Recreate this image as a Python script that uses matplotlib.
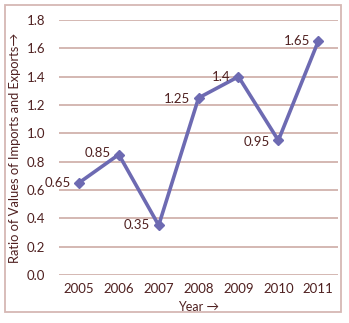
import matplotlib.pyplot as plt
from matplotlib.patches import Rectangle

plt.rcParams['font.family'] = ['Lato', 'DejaVu Sans']

years = ['2005', '2006', '2007', '2008', '2009', '2010', '2011']
ratios = [0.65, 0.85, 0.35, 1.25, 1.4, 0.95, 1.65]
labels = ['0.65', '0.85', '0.35', '1.25', '1.4', '0.95', '1.65']
# label offsets in points (dx, dy)
offsets = [(-6, 0), (-6, 1), (-6, 0), (-6, -1), (-6, 0), (-6, -1), (-6, 0)]

text_col = '#4f2020'
line_col = '#6d6ab2'
grid_col = '#c9a49e'

fig = plt.figure(figsize=(3.49, 3.23), dpi=100)
fig.patches.append(Rectangle((0.0143, 0.034), 0.963, 0.95, transform=fig.transFigure,
                             fill=False, edgecolor='#d6b8b4', linewidth=1.3))
ax = fig.add_axes([0.169, 0.149, 0.800, 0.789])

x = list(range(len(years)))
ax.plot(x, ratios, color=line_col, linewidth=2.6, marker='D', markersize=5)
for xi, yi, lab, (dx, dy) in zip(x, ratios, labels, offsets):
    ax.annotate(lab, (xi, yi), xytext=(dx, dy), textcoords='offset points',
                ha='right', va='center', fontsize=9.5, color=text_col)

ax.set_xlim(-0.5, len(years) - 0.5)
ax.set_ylim(0, 1.8)
ax.set_yticks([0.0, 0.2, 0.4, 0.6, 0.8, 1.0, 1.2, 1.4, 1.6, 1.8])
ax.set_yticklabels(['%.1f' % v for v in ax.get_yticks()])
ax.set_xticks(x)
ax.set_xticklabels(years)
ax.tick_params(length=0, labelsize=9.5, colors=text_col, pad=10)
ax.tick_params(axis='x', pad=5.5)
ax.grid(axis='y', color=grid_col, linewidth=1.1)
ax.set_axisbelow(True)
for s in ax.spines.values():
    s.set_visible(False)

ax.set_xlabel('Year \u2192', fontsize=9, color=text_col, labelpad=4.5)
ax.set_ylabel('Ratio of Values of Imports and Exports\u2192', fontsize=9.3, color=text_col, labelpad=4)

fig.savefig('out.png', dpi=100)
